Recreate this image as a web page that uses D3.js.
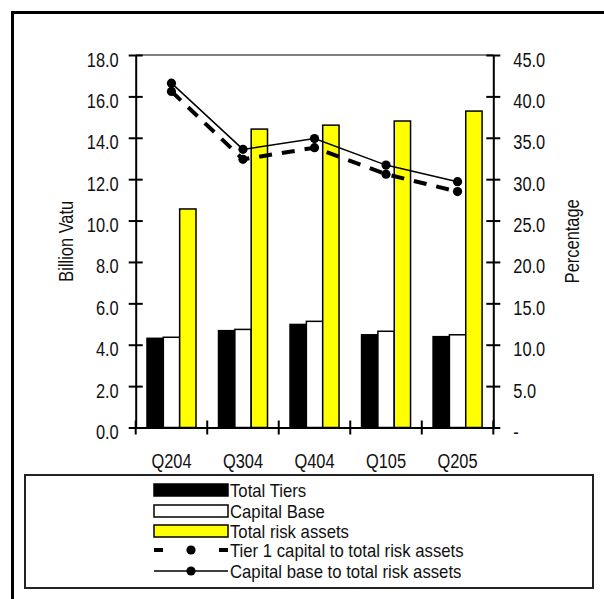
<!DOCTYPE html>
<html>
<head>
<meta charset="utf-8">
<script src="https://cdn.jsdelivr.net/npm/d3@7"></script>
<style>
  body { margin: 0; background: #fff; }
  text { font-family: "Liberation Sans", Arial, sans-serif; fill: #111; }
</style>
</head>
<body>
<script>
// data
var quarters = ["Q204", "Q304", "Q404", "Q105", "Q205"];
var totalTiers = [4.31, 4.68, 4.98, 4.48, 4.39];
var capitalBase = [4.36, 4.74, 5.13, 4.65, 4.48];
var totalRiskAssets = [10.56, 14.42, 14.61, 14.81, 15.29];
var tier1Ratio = [40.6, 32.4, 33.8, 30.6, 28.5];
var capitalRatio = [41.6, 33.6, 34.9, 31.7, 29.7];
var leftTicks = [0, 2, 4, 6, 8, 10, 12, 14, 16, 18];
var rightTicks = [0, 5, 10, 15, 20, 25, 30, 35, 40, 45];

var barSeries = [
    { name: "Total Tiers", values: totalTiers, fill: "#000000" },
    { name: "Capital Base", values: capitalBase, fill: "#ffffff" },
    { name: "Total risk assets", values: totalRiskAssets, fill: "#ffff00" }
];

//////////////////////////////////////////////////////////////////////////////

var W = 604, H = 599;
var pLeft = 135.7, pRight = 493.3, pTop = 55, pBottom = 427.5;
var fontSize = 20;
var legendFont = 19;

var svg = d3.select("body").append("svg")
    .attr("width", W)
    .attr("height", H);

var x = d3.scaleBand().domain(quarters).range([pLeft, pRight]);
var xInner = d3.scaleBand().domain(barSeries.map(function(d) { return d.name; }))
    .range([x.bandwidth() * 0.158, x.bandwidth() * 0.843]);
var yL = d3.scaleLinear().domain([0, 18]).range([pBottom, pTop]);
var yR = d3.scaleLinear().domain([0, 45]).range([pBottom, pTop]);

// outer frame (runs off the right and bottom edge)
svg.append("rect")
    .attr("x", 12.5).attr("y", 12.5)
    .attr("width", 700).attr("height", 700)
    .attr("fill", "none").attr("stroke", "#000").attr("stroke-width", 3);

// top border of plot area
svg.append("line")
    .attr("x1", pLeft).attr("x2", pRight)
    .attr("y1", pTop).attr("y2", pTop)
    .attr("stroke", "#808080").attr("stroke-width", 2);

// bars
var groups = svg.append("g").selectAll("g")
    .data(barSeries)
    .enter().append("g");

groups.selectAll("rect")
    .data(function(s) { return s.values.map(function(v, i) { return { q: quarters[i], v: v, s: s }; }); })
    .enter().append("rect")
    .attr("x", function(d) { return x(d.q) + xInner(d.s.name); })
    .attr("y", function(d) { return yL(d.v); })
    .attr("width", xInner.bandwidth())
    .attr("height", function(d) { return yL(0) - yL(d.v); })
    .attr("fill", function(d) { return d.s.fill; })
    .attr("stroke", "#000")
    .attr("stroke-width", 1.5);

// axes
function styleAxis(g) {
    g.select(".domain").attr("stroke", "#000").attr("stroke-width", 2);
    g.selectAll(".tick line").attr("stroke", "#000").attr("stroke-width", 2);
    g.selectAll("text").style("font-size", fontSize + "px")
        .style("font-family", "'Liberation Sans', Arial, sans-serif")
        .attr("fill", "#111")
        .attr("data-squeeze", 0.82);
}

svg.append("g")
    .attr("transform", "translate(" + pLeft + ",0)")
    .call(d3.axisLeft(yL).tickValues(leftTicks).tickFormat(d3.format(".1f")).tickSize(7).tickSizeOuter(0).tickPadding(10))
    .call(styleAxis)
    .call(function(g) {
        g.selectAll(".tick line").attr("x2", 7).attr("x1", -7);
        g.selectAll(".tick text").attr("dy", "0.55em");
    });

svg.append("g")
    .attr("transform", "translate(" + pRight + ",0)")
    .call(d3.axisRight(yR).tickValues(rightTicks)
        .tickFormat(function(d) { return d === 0 ? "-" : d3.format(".1f")(d); })
        .tickSize(7).tickSizeOuter(0).tickPadding(13))
    .call(styleAxis)
    .call(function(g) {
        g.selectAll(".tick line").attr("x1", -7).attr("x2", 7);
        g.selectAll(".tick text").attr("dy", "0.55em");
    });

var xAxis = svg.append("g")
    .attr("transform", "translate(0," + pBottom + ")")
    .call(d3.axisBottom(x).tickSize(0).tickSizeOuter(0).tickPadding(26))
    .call(styleAxis);

// category boundary ticks
var bounds = quarters.map(function(q) { return x(q); }).concat([pRight]);
xAxis.selectAll(".bound")
    .data(bounds)
    .enter().append("line")
    .attr("x1", function(d) { return d; }).attr("x2", function(d) { return d; })
    .attr("y1", -7).attr("y2", 7)
    .attr("stroke", "#000").attr("stroke-width", 2);

// axis titles
svg.append("text")
    .attr("transform", "translate(66," + ((pTop + pBottom) / 2) + ") rotate(-90)")
    .attr("text-anchor", "middle").attr("dy", "0.35em")
    .attr("data-squeeze", 0.82)
    .style("font-size", fontSize + "px")
    .text("Billion Vatu");

svg.append("text")
    .attr("transform", "translate(572," + ((pTop + pBottom) / 2) + ") rotate(-90)")
    .attr("text-anchor", "middle").attr("dy", "0.35em")
    .attr("data-squeeze", 0.82)
    .style("font-size", fontSize + "px")
    .text("Percentage");

// lines
var cx = function(d, i) { return x(quarters[i]) + x.bandwidth() / 2; };

var lineSeries = [
    { name: "Tier 1 capital to total risk assets", values: tier1Ratio, width: 4, dash: "13,10" },
    { name: "Capital base to total risk assets", values: capitalRatio, width: 1.5, dash: null }
];

lineSeries.forEach(function(s) {
    var line = d3.line().x(cx).y(function(d) { return yR(d); });
    svg.append("path")
        .datum(s.values)
        .attr("d", line)
        .attr("fill", "none")
        .attr("stroke", "#000")
        .attr("stroke-width", s.width)
        .attr("stroke-dasharray", s.dash);
    svg.append("g").selectAll("circle")
        .data(s.values)
        .enter().append("circle")
        .attr("cx", cx)
        .attr("cy", function(d) { return yR(d); })
        .attr("r", 4.6)
        .attr("fill", "#000");
});

// legend
var lg = svg.append("g");
lg.append("rect")
    .attr("x", 25).attr("y", 475)
    .attr("width", 568).attr("height", 113)
    .attr("fill", "#fff").attr("stroke", "#222").attr("stroke-width", 2);

var swX = 154, swW = 74, rowY = [490, 511, 531, 550, 571];

barSeries.forEach(function(s, i) {
    lg.append("rect")
        .attr("x", swX).attr("y", rowY[i] - 6)
        .attr("width", swW).attr("height", 12)
        .attr("fill", s.fill)
        .attr("stroke", "#000").attr("stroke-width", 1.5);
});

// tier 1 marker: dash, dot, dash
lg.append("line").attr("x1", swX).attr("x2", swX + 9).attr("y1", rowY[3]).attr("y2", rowY[3])
    .attr("stroke", "#000").attr("stroke-width", 4);
lg.append("line").attr("x1", swX + swW - 9).attr("x2", swX + swW).attr("y1", rowY[3]).attr("y2", rowY[3])
    .attr("stroke", "#000").attr("stroke-width", 4);
lg.append("circle").attr("cx", swX + swW / 2).attr("cy", rowY[3]).attr("r", 4.6).attr("fill", "#000");

// capital base marker: line with dot
lg.append("line").attr("x1", swX).attr("x2", swX + swW).attr("y1", rowY[4]).attr("y2", rowY[4])
    .attr("stroke", "#000").attr("stroke-width", 1.5);
lg.append("circle").attr("cx", swX + swW / 2).attr("cy", rowY[4]).attr("r", 4.6).attr("fill", "#000");

var legendNames = barSeries.map(function(d) { return d.name; })
    .concat(lineSeries.map(function(d) { return d.name; }));

lg.selectAll(".lt")
    .data(legendNames)
    .enter().append("text")
    .attr("x", swX + swW + 2)
    .attr("y", function(d, i) { return rowY[i]; })
    .attr("dy", "0.35em")
    .attr("data-squeeze", 0.88)
    .style("font-size", legendFont + "px")
    .text(function(d) { return d; });

// squeeze every label horizontally to mimic the narrow face
svg.selectAll("text").each(function() {
    var len = this.getComputedTextLength();
    var k = +this.getAttribute("data-squeeze") || 0.85;
    d3.select(this)
        .attr("textLength", len * k)
        .attr("lengthAdjust", "spacingAndGlyphs");
});
</script>
</body>
</html>
